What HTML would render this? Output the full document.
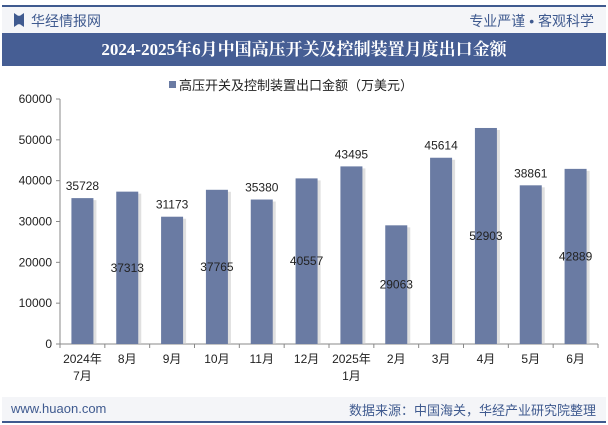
<!DOCTYPE html>
<html><head><meta charset="utf-8">
<style>
body{margin:0;width:608px;height:425px;overflow:hidden;background:#fff;font-family:"Liberation Sans","Noto Sans CJK SC",sans-serif;position:relative}
.abs{position:absolute}
</style></head><body>
<div class="abs" style="left:2px;top:5px;width:604px;height:2px;background:#3f5a8f"></div>
<div class="abs" style="left:2px;top:7px;width:604px;height:26px;background:#f4f5f8"></div>
<div class="abs" style="left:14px;top:13px;width:10px;height:14px;background:#3f5a8f;clip-path:polygon(0 0,40% 20%,60% 20%,100% 0,100% 100%,60% 80%,40% 80%,0 100%)"></div>
<div class="abs" style="left:31px;top:11px;font-size:14px;color:#3f5a8f">华经情报网</div>
<div class="abs" style="right:14px;top:11px;font-size:14px;color:#3f5a8f">专业严谨 • 客观科学</div>
<div class="abs" style="left:2px;top:33px;width:604px;height:33px;background:#465e94;color:#fff;font-weight:bold;font-size:17px;text-align:center;line-height:33px;font-family:'Liberation Serif','Noto Serif CJK SC',serif">2024-2025年6月中国高压开关及控制装置月度出口金额</div>
<svg class="abs" style="left:0;top:0" width="608" height="425">
<g id="g"></g>
</svg>
<div class="abs" style="left:2px;top:397px;width:604px;height:25px;background:#f4f5f8"></div>
<div class="abs" style="left:11px;top:401px;font-size:13px;color:#3f5a8f">www.huaon.com</div>
<div class="abs" style="right:12px;top:400px;font-size:13px;color:#3f5a8f">数据来源：中国海关，华经产业研究院整理</div>
<div class="abs" style="left:2px;top:421px;width:604px;height:2px;background:#3f5a8f"></div>
<script>
const categories=["2024年|7月","8月","9月","10月","11月","12月","2025年|1月","2月","3月","4月","5月","6月"];
const values=[35728,37313,31173,37765,35380,40557,43495,29063,45614,52903,38861,42889];
const yTicks=[0,10000,20000,30000,40000,50000,60000];
const NS="http://www.w3.org/2000/svg";
const g=document.getElementById('g');
const x0=60,x1=598,y0=344,yTop=99,yMax=60000;
const step=(x1-x0)/categories.length,bw=22;
const y=v=>y0-(v/yMax)*(y0-yTop);
const xc=i=>x0+step*(i+0.5);
function mk(t,a,txt){const e=document.createElementNS(NS,t);for(const k in a)e.setAttribute(k,a[k]);if(txt!==undefined)e.textContent=txt;g.appendChild(e);return e;}
const ax=mk('line',{x1:x0,y1:yTop,x2:x0,y2:y0,stroke:'#888'});

const bx=mk('line',{x1:x0,y1:y0,x2:x1,y2:y0,stroke:'#888'});

yTicks.forEach(t=>{
 const l=mk('line',{x1:x0-4,y1:y(t),x2:x0,y2:y(t),stroke:'#888'});
 
 const tx=mk('text',{x:x0-8,y:y(t)+4,'text-anchor':'end','font-size':12,fill:'#222'},t);
 
});
for(let i=0;i<=categories.length;i++){const xx=x0+step*i;const l=mk('line',{x1:xx,y1:y0,x2:xx,y2:y0+4,stroke:'#888'});
 }
categories.forEach((c,i)=>{
 const v=values[i];
 const sh=mk('rect',{x:xc(i)-bw/2+3,y:y(v)+2,width:bw,height:y0-y(v)-2,fill:'#ccc',opacity:0.6});
 
 const r=mk('rect',{x:xc(i)-bw/2,y:y(v),width:bw,height:y0-y(v),fill:'#6a7ba3'});
 
 const ly=i%2===0?y(v)-8:(y(v)+y0)/2+4;
 const lb=mk('text',{x:xc(i),y:ly,'text-anchor':'middle','font-size':12,fill:'#222'},v);
 
 c.split('|').forEach((p,j)=>{const t=mk('text',{x:xc(i),y:y0+19+j*17,'text-anchor':'middle','font-size':12,fill:'#222'},p);
  });
});
const lr=mk('rect',{x:169,y:81,width:7,height:7,fill:'#6a7ba3'});

const lt=mk('text',{x:179,y:90,'font-size':13,fill:'#222'},'高压开关及控制装置出口金额（万美元）');

</script>
</body></html>
